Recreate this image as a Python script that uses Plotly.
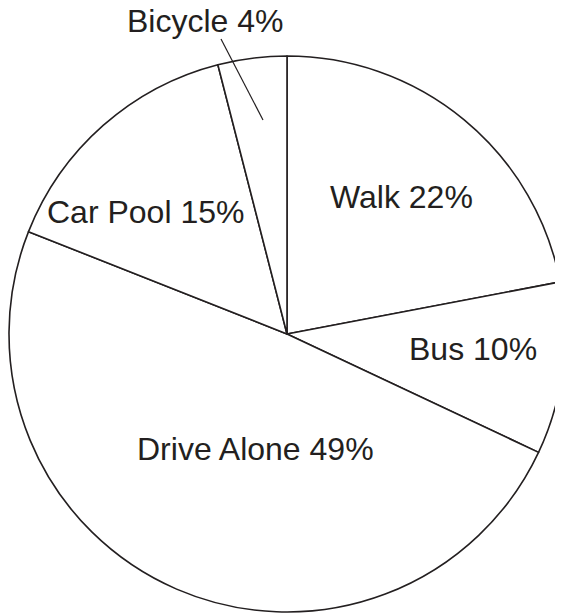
import plotly.graph_objects as go

W, H = 563, 613
OFF = 8  # page body margin offset

# Data
modes = ["Walk", "Bus", "Drive Alone", "Car Pool", "Bicycle"]
shares = [22, 10, 49, 15, 4]

# Label centre positions (page pixels) for the annotations
label_px = {
    "Walk": (401, 197),
    "Bus": (473, 349),
    "Drive Alone": (255, 449),
    "Car Pool": (145, 212),
    "Bicycle": (205, 21),
}


def fx(px):
    return (px - OFF) / W


def fy(py):
    return 1 - (py - OFF) / H


fig = go.Figure(go.Pie(
    labels=modes,
    values=shares,
    sort=False,
    direction="clockwise",
    rotation=0,
    textinfo="none",
    hoverinfo="label+percent",
    marker=dict(colors=["white"] * len(modes), line=dict(color="#231f20", width=1.6)),
    domain=dict(x=[fx(9), fx(565)], y=[fy(612), fy(56)]),
    showlegend=False,
))

ann = []
for m, v in zip(modes, shares):
    px, py = label_px[m]
    ann.append(dict(
        x=fx(px), y=fy(py), xref="paper", yref="paper",
        text=f"{m} {v}%", showarrow=False,
        xanchor="center", yanchor="middle",
        font=dict(family="Liberation Sans, Arial, Helvetica, sans-serif", size=32, color="#231f20"),
    ))

fig.update_layout(
    width=W, height=H,
    margin=dict(l=0, r=0, t=0, b=0),
    paper_bgcolor="white", plot_bgcolor="white",
    annotations=ann,
    shapes=[dict(type="line", xref="paper", yref="paper",
                 x0=fx(221), y0=fy(39), x1=fx(263), y1=fy(120),
                 line=dict(color="#231f20", width=1.2))],
)

fig.write_html("out.html")
